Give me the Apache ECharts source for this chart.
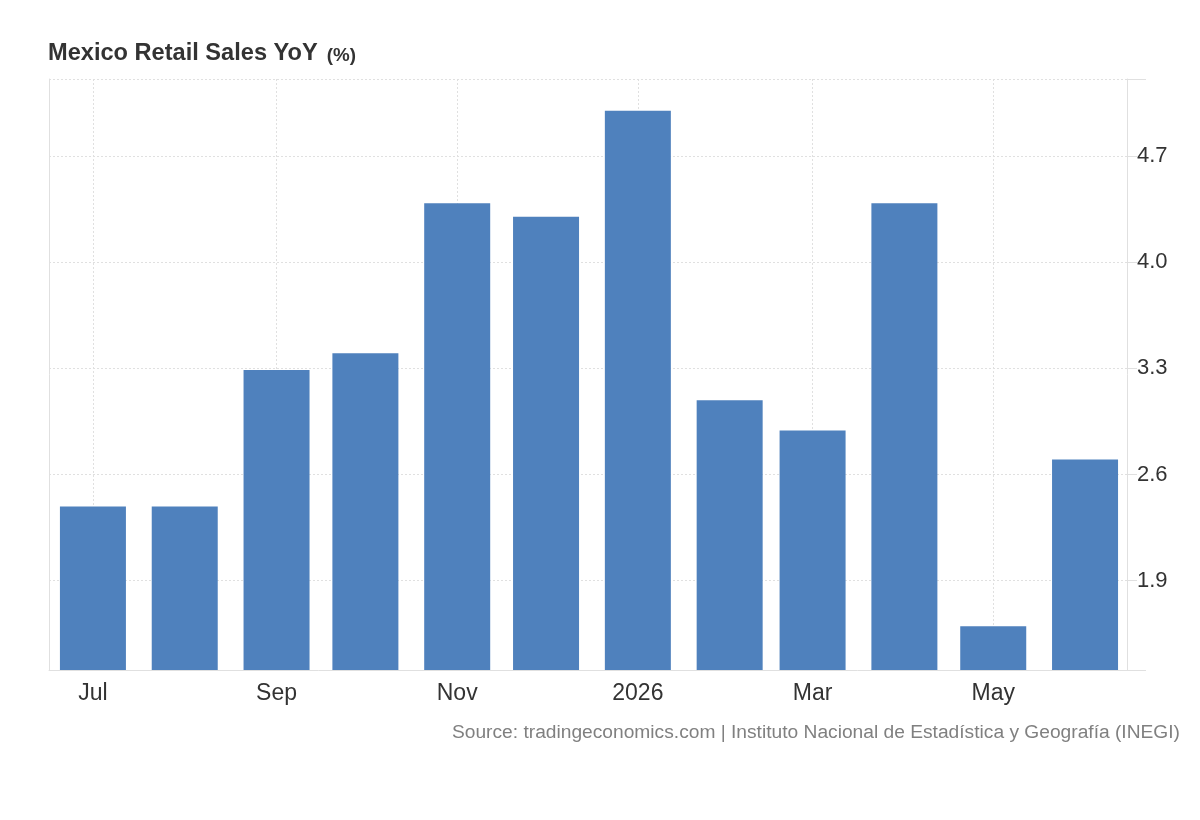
<!DOCTYPE html>
<html>
<head>
<meta charset="utf-8">
<title>Mexico Retail Sales YoY</title>
<script src="https://cdn.jsdelivr.net/npm/echarts@6.0.0/dist/echarts.min.js"></script>
<style>
    html, body { margin: 0; padding: 0; background: #fff; }
    #main { width: 1200px; height: 820px; }
</style>
</head>
<body>
<div id="main"></div>
<script>
// monthly data, one bar per month (first day of the month)
var months = ['2025-07-01', '2025-08-01', '2025-09-01', '2025-10-01', '2025-11-01', '2025-12-01',
    '2026-01-01', '2026-02-01', '2026-03-01', '2026-04-01', '2026-05-01', '2026-06-01'];
var retailYoY = [2.39, 2.39, 3.29, 3.40, 4.39, 4.30, 5.00, 3.09, 2.89, 4.39, 1.60, 2.70];

// axis ticks
var xTickDates = ['2025-07-01', '2025-09-01', '2025-11-01', '2026-01-01', '2026-03-01', '2026-05-01'];
var yTicks = [1.9, 2.6, 3.3, 4.0, 4.7];
var yMin = 1.311, yMax = 5.209;
var xMin = '2025-06-16', xMax = '2026-06-15';
var monthNames = ['Jan', 'Feb', 'Mar', 'Apr', 'May', 'Jun', 'Jul', 'Aug', 'Sep', 'Oct', 'Nov', 'Dec'];

function toTime(s) {
    var p = s.split('-');
    return new Date(+p[0], +p[1] - 1, +p[2]).getTime();
}

var barData = [];
for (var i = 0; i < months.length; i++) {
    barData.push([toTime(months[i]), retailYoY[i]]);
}
var xTicks = xTickDates.map(toTime);
// axis range starts a few hours into the day
var rangeShift = 4 * 3600 * 1000;

var myChart = echarts.init(document.getElementById('main'));
var font = 'Liberation Sans, Arial, sans-serif';
var lineColor = '#e0e0e0';

myChart.setOption({
    animation: false,
    textStyle: { fontFamily: font },
    title: {
        text: '{a|Mexico Retail Sales YoY} {b|(%)}',
        left: 48,
        top: 40,
        padding: 0,
        textStyle: {
            rich: {
                a: { fontFamily: font, fontSize: 23.6, fontWeight: 'bold', color: '#333', verticalAlign: 'bottom', lineHeight: 25 },
                b: { fontFamily: font, fontSize: 18.8, fontWeight: 'bold', color: '#333', verticalAlign: 'bottom', lineHeight: 25, padding: [0, 0, 0, 4] }
            }
        }
    },
    grid: { left: 49, right: 73, top: 79, bottom: 150, containLabel: false },
    // dates kept as timestamps on a value axis so the month ticks can be placed exactly
    xAxis: {
        type: 'value',
        min: toTime(xMin) + rangeShift,
        max: toTime(xMax) + rangeShift,
        axisLine: { show: true, lineStyle: { color: lineColor, width: 1 } },
        axisTick: { show: false, customValues: xTicks },
        axisLabel: {
            customValues: xTicks,
            fontSize: 23,
            color: '#333',
            margin: 12,
            formatter: function (value) {
                var d = new Date(value);
                if (d.getMonth() == 0) {
                    return String(d.getFullYear());
                }
                return monthNames[d.getMonth()];
            }
        },
        splitLine: { show: true, lineStyle: { color: lineColor, type: [2, 2], width: 1 } }
    },
    yAxis: [{
        type: 'value',
        position: 'right',
        min: yMin,
        max: yMax,
        axisLine: { show: true, lineStyle: { color: lineColor, width: 1 } },
        axisTick: { show: true, length: 10, lineStyle: { color: lineColor }, customValues: yTicks.concat([yMax]) },
        axisLabel: {
            customValues: yTicks,
            fontSize: 22,
            color: '#333',
            margin: 10,
            padding: [0, 0, 6, 0],
            formatter: function (v) { return v.toFixed(1); }
        },
        splitLine: { show: true, lineStyle: { color: lineColor, type: [2, 2], width: 1 } }
    }, {
        type: 'value',
        position: 'left',
        min: yMin,
        max: yMax,
        axisLine: { show: true, lineStyle: { color: lineColor, width: 1 } },
        axisTick: { show: false },
        axisLabel: { show: false },
        splitLine: { show: false }
    }, {
        // longer end ticks at top and bottom of the right axis
        type: 'value',
        position: 'right',
        min: yMin,
        max: yMax,
        axisLine: { show: false },
        axisTick: { show: true, length: 19, lineStyle: { color: lineColor }, customValues: [yMin, yMax] },
        axisLabel: { show: false },
        splitLine: { show: false }
    }],
    series: [{
        name: 'Retail Sales YoY',
        type: 'bar',
        yAxisIndex: 0,
        barWidth: 66,
        itemStyle: { color: '#4f81bd' },
        data: barData
    }],
    graphic: [{
        type: 'text',
        right: 20,
        top: 723,
        style: {
            text: 'Source: tradingeconomics.com | Instituto Nacional de Estadística y Geografía (INEGI)',
            fontFamily: font,
            fontSize: 19.2,
            fill: '#808080'
        }
    }]
});
</script>
</body>
</html>
